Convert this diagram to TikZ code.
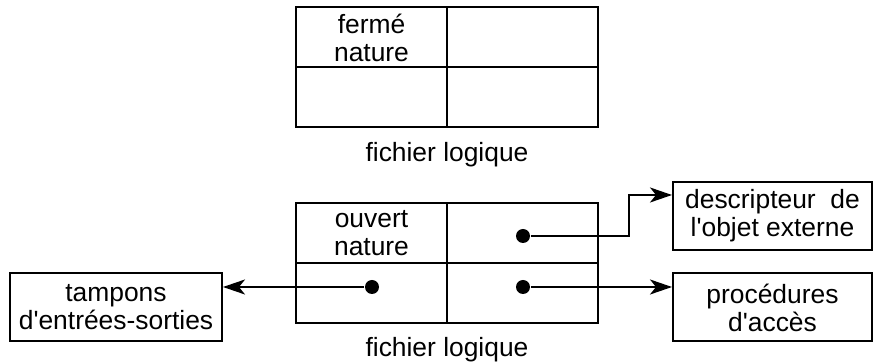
\documentclass[tikz,border=0pt]{standalone}
\usepackage{fontspec}
\setmainfont{Liberation Sans}[Ligatures=TeXOff]
\usetikzlibrary{arrows.meta, positioning}

\begin{document}
\begin{tikzpicture}[x=0.5pt,y=-0.5pt,line width=1pt,->,>={Stealth[length=11pt,width=7.5pt,inset=3pt]},
                    font=\fontsize{13.2pt}{14pt}\selectfont]
                \tikzset{cell/.style={draw, rectangle, minimum width=75.5pt, minimum height=30pt, inner sep=0pt, outer sep=0pt, align=center}}
                \tikzset{boite/.style={draw, rectangle, minimum width=99.5pt, minimum height=34pt, inner sep=0pt, align=center}}
                \tikzset{point/.style={circle, fill=black, minimum size=7pt, inner sep=0pt}}
                \useasboundingbox (0,0) rectangle (875,363);
                % fichier ferme
                \node[cell] (F1) at (371.5,37.5) {ferm\'e\\nature};
                \node[cell] (F2) [right=0pt of F1] {};
                \node[cell] (F3) [below=0pt of F1] {};
                \node[cell] (F4) [below=0pt of F2] {};
                \node (LF) at (447,155) {fichier logique};
                % fichier ouvert
                \node[cell] (O1) at (371.5,233.5) {ouvert\\nature};
                \node[cell] (O2) [right=0pt of O1] {};
                \node[cell] (O3) [below=0pt of O1] {};
                \node[cell] (O4) [below=0pt of O2] {};
                \node (LO) at (447,350) {fichier logique};
                \node[point] (P1) at (523,236) {};
                \node[point] (P2) at (372,287) {};
                \node[point] (P3) at (523,287) {};
                \node[boite] (D) at (772.5,216) {descripteur~ de\\l'objet externe};
                \node[boite] (A) at (772.5,307.5) {proc\'edures\\d'acc\`es};
                \node[boite, minimum width=106pt] (T) at (116,307) {tampons\\d'entr\'ees-sorties};
                \coordinate (K) at (629,195);
                \draw (P1) -| (K) -- (K -| D.west);
                \draw (P3) -- (P3 -| A.west);
                \draw (P2) -- (P2 -| T.east);
            \end{tikzpicture}
\end{document}
